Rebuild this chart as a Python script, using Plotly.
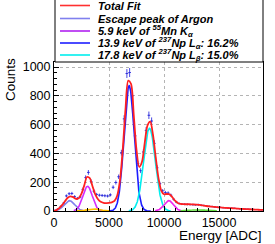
import numpy as np
import plotly.graph_objects as go

# ---------------- data ----------------
bin_width = 250
bin_centers = list(range(125, 19000, bin_width))
data_counts = [
    5, 14, 32, 55, 105, 120, 122, 100, 88, 98,
    150, 232, 268, 205, 138, 115, 110, 108, 106, 104,
    112, 165, 198, 238, 405, 640, 955, 962, 800, 522,
    330, 280, 410, 560, 665, 625, 470, 300, 190, 140,
    128, 125, 110, 82, 62, 52, 48, 47, 46, 45,
    44, 43, 44, 40, 38, 35, 32, 31, 28, 26,
    25, 23, 22, 21, 19, 19, 17, 16, 15, 14,
    13, 12, 11, 10, 10, 8,
]

fit_x = list(range(0, 19001, 250))
fit_total = [
    0, 8, 22, 42, 68, 92, 102, 96, 84, 88,
    120, 178, 236, 228, 172, 115, 82, 64, 57, 55,
    56, 60, 70, 108, 215, 428, 708, 905, 884, 666,
    424, 306, 342, 474, 594, 620, 528, 372, 228, 142,
    116, 118, 116, 97, 72, 56, 50, 48, 47, 47,
    46, 45, 44, 42, 39, 36, 33, 31, 29, 27,
    25, 24, 22, 21, 20, 19, 18, 16, 15, 14,
    13, 12, 11, 10, 9, 8, 8,
]

# Gaussian fit components: mean, sigma, amplitude, drawn range
comp_mean = [1400, 3050, 3600, 6830, 8680, 10430, 13100]
comp_sigma = [480, 430, 600, 460, 530, 430, 850]
comp_amp = [72, 172, 14, 870, 575, 72, 8]
comp_lo = [0, 1800, 2000, 5000, 6800, 9200, 11500]
comp_hi = [3000, 4400, 5200, 8800, 10600, 11800, 14800]
comp_color = ["#8080ee", "#d22cff", "#ffc000", "#1e1eff", "#00eeee", "#ee22ee", "#66dd44"]

legend_labels = [
    "<b><i>Total Fit</i></b>",
    "<b><i>Escape peak of Argon</i></b>",
    "<b><i>5.9 keV of <sup>55</sup>Mn K<sub>α</sub></i></b>",
    "<b><i>13.9 keV of <sup>237</sup>Np L<sub>α</sub>: 16.2%</i></b>",
    "<b><i>17.8 keV of <sup>237</sup>Np L<sub>β</sub>: 15.0%</i></b>",
]
legend_colors = ["#ff3030", "#8080ee", "#b020f0", "#1e1eff", "#00eeee"]

x_ticks = [0, 5000, 10000, 15000]
y_ticks = [0, 200, 400, 600, 800, 1000]

# ---------------- figure ----------------
W, H = 275, 244
L, R, T, B = 54, 12, 62, 33
pw, ph = W - L - R, H - T - B


def px2x(px):
    return (px - L) / pw


def py2y(py):
    return (H - B - py) / ph


fig = go.Figure()

fig.add_trace(go.Scatter(
    x=bin_centers, y=data_counts, mode="markers",
    marker=dict(size=1, color="rgba(40,40,220,0.9)"),
    error_y=dict(type="sqrt", width=0, thickness=1, color="rgba(40,40,220,0.85)"),
    error_x=dict(type="constant", value=bin_width / 2, width=0, thickness=1,
                 color="rgba(40,40,220,0.85)"),
    showlegend=False, hoverinfo="skip",
))

for mu, sg, a, lo, hi, col in zip(comp_mean, comp_sigma, comp_amp, comp_lo, comp_hi, comp_color):
    xs = np.linspace(lo, hi, 200)
    ys = a * np.exp(-(xs - mu) ** 2 / (2 * sg ** 2))
    fig.add_trace(go.Scatter(x=xs, y=ys, mode="lines",
                             line=dict(color=col, width=1.6),
                             showlegend=False, hoverinfo="skip"))

fig.add_trace(go.Scatter(x=fit_x, y=fit_total, mode="lines",
                         line=dict(color="#ff2020", width=1.8, shape="spline", smoothing=0.8),
                         showlegend=False, hoverinfo="skip"))

axis_font = dict(family="Liberation Sans, Arial, sans-serif", size=12.5, color="black")

fig.update_xaxes(
    range=[0, 19000], tickvals=x_ticks, ticktext=[str(v) for v in x_ticks],
    ticks="inside", ticklen=5, tickcolor="black",
    minor=dict(dtick=1000, ticks="inside", ticklen=3, tickcolor="black", showgrid=False),
    showline=True, linecolor="black", linewidth=1, mirror=True,
    showgrid=True, gridcolor="#b4b4b4", griddash="dot", gridwidth=1,
    zeroline=False, tickfont=axis_font,
)
fig.update_yaxes(
    range=[0, 1035], tickvals=y_ticks, ticktext=[str(v) for v in y_ticks],
    ticks="inside", ticklen=5, tickcolor="black",
    minor=dict(dtick=40, ticks="inside", ticklen=3, tickcolor="black", showgrid=False),
    showline=True, linecolor="black", linewidth=1, mirror=True,
    showgrid=True, gridcolor="#b4b4b4", griddash="dot", gridwidth=1,
    zeroline=False, tickfont=axis_font,
)

annotations = [
    dict(text="Counts", xref="paper", yref="paper", x=px2x(10), y=py2y(80),
         textangle=-90, showarrow=False, xanchor="center", yanchor="middle",
         font=dict(family="Liberation Sans, Arial, sans-serif", size=13.5, color="black")),
    dict(text="Energy [ADC]", xref="paper", yref="paper", x=px2x(264), y=py2y(235.5),
         showarrow=False, xanchor="right", yanchor="middle",
         font=dict(family="Liberation Sans, Arial, sans-serif", size=13.5, color="black")),
]

shapes = [
    dict(type="rect", xref="paper", yref="paper", x0=px2x(55), x1=px2x(263),
         y0=py2y(62), y1=py2y(-2), line=dict(color="black", width=1), fillcolor="white",
         layer="above"),
]

row_y = [5.5, 18.5, 31, 43, 55]
for lab, col, ry in zip(legend_labels, legend_colors, row_y):
    shapes.append(dict(type="line", xref="paper", yref="paper",
                       x0=px2x(60), x1=px2x(90), y0=py2y(ry), y1=py2y(ry),
                       line=dict(color=col, width=1.6)))
    annotations.append(dict(text=lab, xref="paper", yref="paper", x=px2x(96), y=py2y(ry),
                            showarrow=False, xanchor="left", yanchor="middle",
                            font=dict(family="Liberation Sans, Arial, sans-serif",
                                      size=11, color="black")))

fig.update_layout(
    width=W, height=H, margin=dict(l=L, r=R, t=T, b=B),
    paper_bgcolor="white", plot_bgcolor="white",
    annotations=annotations, shapes=shapes, showlegend=False,
)

fig.write_html(
    "out.html",
    config={"displayModeBar": False},
    post_script="document.body.style.margin='0';document.body.style.padding='0';",
)
